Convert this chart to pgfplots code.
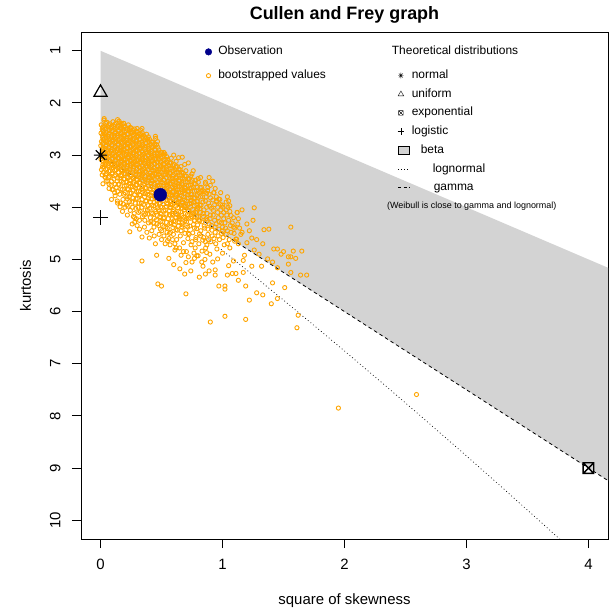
\documentclass[border=0pt]{standalone}
\usepackage{fontspec}
\setmainfont{Liberation Sans}
\usepackage{pgfplots}
\pgfplotsset{compat=1.18}
\definecolor{rgray}{HTML}{D3D3D3}
\definecolor{rorange}{HTML}{FFA500}
\definecolor{rnavy}{HTML}{00008B}

% R pch 8 (plus and cross) and pch 7 (square with cross)
\pgfdeclareplotmark{rast}{%
  \pgfpathmoveto{\pgfqpoint{-\pgfplotmarksize}{0pt}}\pgfpathlineto{\pgfqpoint{\pgfplotmarksize}{0pt}}%
  \pgfpathmoveto{\pgfqpoint{0pt}{-\pgfplotmarksize}}\pgfpathlineto{\pgfqpoint{0pt}{\pgfplotmarksize}}%
  \pgfpathmoveto{\pgfqpoint{-.7071\pgfplotmarksize}{-.7071\pgfplotmarksize}}\pgfpathlineto{\pgfqpoint{.7071\pgfplotmarksize}{.7071\pgfplotmarksize}}%
  \pgfpathmoveto{\pgfqpoint{-.7071\pgfplotmarksize}{.7071\pgfplotmarksize}}\pgfpathlineto{\pgfqpoint{.7071\pgfplotmarksize}{-.7071\pgfplotmarksize}}%
  \pgfusepathqstroke}
\pgfdeclareplotmark{sqx}{%
  \pgfpathrectangle{\pgfqpoint{-\pgfplotmarksize}{-\pgfplotmarksize}}{\pgfqpoint{2\pgfplotmarksize}{2\pgfplotmarksize}}%
  \pgfpathmoveto{\pgfqpoint{-\pgfplotmarksize}{-\pgfplotmarksize}}\pgfpathlineto{\pgfqpoint{\pgfplotmarksize}{\pgfplotmarksize}}%
  \pgfpathmoveto{\pgfqpoint{-\pgfplotmarksize}{\pgfplotmarksize}}\pgfpathlineto{\pgfqpoint{\pgfplotmarksize}{-\pgfplotmarksize}}%
  \pgfusepathqstroke}

\pgfplotsset{boot/.style={forget plot, only marks, mark=o, mark size=2.1bp, line width=0.9bp, rorange}}

\begin{document}
\begin{tikzpicture}
\begin{axis}[
  name=main,
  scale only axis, width=527bp, height=507bp,
  xmin=-0.16, xmax=4.16, ymin=0.64, ymax=10.36, y dir=reverse,
  xtick={0,1,2,3,4}, ytick={1,2,...,10},
  tick pos=left, tick align=outside, major tick length=9bp,
  every tick/.style={black, line width=0.9bp},
  axis line style={line width=0.9bp},
  /pgf/number format/assume math mode=true,
  tick label style={font=\fontsize{15}{18}\selectfont},
  xticklabel style={yshift=-8bp},
  yticklabel style={xshift=-8bp, rotate=90, anchor=south},
  xlabel={square of skewness}, ylabel={kurtosis},
  every axis x label/.style={at={(axis description cs:0.5,-0.1282)}, anchor=base, font=\fontsize{15}{18}\selectfont},
  every axis y label/.style={at={(axis description cs:-0.0949,0.5)}, anchor=base, rotate=90, font=\fontsize{15}{18}\selectfont},
  title={Cullen and Frey graph},
  every axis title/.style={at={(axis description cs:0.5,1.0237)}, anchor=base, font=\bfseries\fontsize{18}{21}\selectfont},
  legend cell align=left,
  legend style={draw=none, fill=none, at={(axis description cs:0.2353,0.972)}, anchor=north west,
    inner sep=0pt, row sep=12.8bp, font=\fontsize{12}{14}\selectfont,
    nodes={text height=8.5bp, text depth=2.5bp, inner ysep=0pt, inner xsep=6.5bp}},
]
\addlegendimage{only marks, mark=*, mark size=3.3bp, rnavy}
\addlegendentry{Observation}
\addlegendimage{only marks, mark=o, mark size=2.1bp, line width=0.85bp, rorange}
\addlegendentry{bootstrapped values}

% beta region
\addplot[forget plot, fill=rgray, draw=none] coordinates {(0,1) (4.5,5.5) (4.5,9.75) (0,3)};
% lognormal
\addplot[forget plot, black, line width=0.7bp, dash pattern=on 0.8bp off 2.6bp] coordinates {
  (0,3) (0.0906,3.1615) (0.1824,3.3261) (0.4651,3.8383) (0.7092,4.2869) (0.961,4.7561)
  (1.2207,5.2463) (1.4884,5.7583) (1.7641,6.2925) (2.048,6.8496) (2.3401,7.4303)
  (2.6406,8.0352) (2.9496,8.6649) (3.267,9.3201) (3.5931,10.0015) (3.9279,10.7098)};
% gamma
\addplot[forget plot, black, line width=0.8bp, dash pattern=on 3.5bp off 3bp] coordinates {(0,3) (4.5,9.75)};

% bootstrapped values
\addplot[boot] coordinates {
(0.006,2.42)(0.014,2.50)(0.004,2.58)(0.018,2.66)(0.008,2.74)(0.002,2.82)(0.016,2.90)(0.010,2.98)(0.004,3.08)(0.020,3.18)(0.008,3.28)
(0.028,2.33)(0.036,2.44)(0.024,2.53)(0.040,2.61)(0.030,2.70)(0.022,2.78)(0.038,2.87)(0.032,2.95)(0.026,3.04)(0.042,3.13)(0.030,3.22)(0.024,3.33)(0.036,3.42)
(0.052,2.37)(0.060,2.46)(0.048,2.56)(0.064,2.64)(0.054,2.73)(0.046,2.81)(0.062,2.90)(0.056,2.99)(0.050,3.07)(0.066,3.16)(0.054,3.26)(0.048,3.36)(0.060,3.50)
(0.078,2.40)(0.086,2.49)(0.074,2.58)(0.090,2.67)(0.080,2.76)(0.072,2.85)(0.088,2.93)(0.082,3.02)(0.076,3.11)(0.092,3.20)(0.080,3.30)(0.074,3.41)(0.086,3.58)
(0.102,2.36)(0.110,2.45)(0.098,2.53)(0.114,2.62)(0.104,2.71)(0.096,2.80)(0.112,2.88)(0.106,2.97)(0.100,3.06)(0.116,3.15)(0.104,3.24)(0.098,3.34)(0.110,3.46)(0.104,3.66)
(0.128,2.39)(0.136,2.48)(0.124,2.57)(0.140,2.66)(0.130,2.75)(0.122,2.84)(0.138,2.92)(0.132,3.01)(0.126,3.10)(0.142,3.19)(0.130,3.28)(0.124,3.38)(0.136,3.50)(0.128,3.62)
(0.152,2.35)(0.160,2.43)(0.148,2.52)(0.164,2.61)(0.154,2.70)(0.146,2.79)(0.162,2.88)(0.156,2.96)(0.150,3.05)(0.166,3.14)(0.154,3.23)(0.148,3.33)(0.160,3.44)(0.152,3.56)(0.158,3.75)
(0.178,2.41)(0.186,2.50)(0.174,2.59)(0.190,2.68)(0.180,2.77)(0.172,2.86)(0.188,2.94)(0.182,3.03)(0.176,3.12)(0.192,3.21)(0.180,3.30)(0.174,3.40)(0.186,3.52)(0.178,3.66)(0.184,3.85)
(0.202,2.45)(0.210,2.54)(0.198,2.63)(0.214,2.72)(0.204,2.81)(0.196,2.90)(0.212,2.99)(0.206,3.08)(0.200,3.17)(0.216,3.26)(0.204,3.36)(0.198,3.46)(0.210,3.58)(0.202,3.72)
(0.228,2.42)(0.236,2.51)(0.224,2.60)(0.240,2.69)(0.230,2.78)(0.222,2.87)(0.238,2.96)(0.232,3.05)(0.226,3.14)(0.242,3.23)(0.230,3.33)(0.224,3.43)(0.236,3.54)(0.228,3.66)(0.234,3.80)(0.226,3.98)
(0.252,2.48)(0.260,2.57)(0.248,2.66)(0.264,2.75)(0.254,2.84)(0.246,2.93)(0.262,3.02)(0.256,3.11)(0.250,3.20)(0.266,3.29)(0.254,3.39)(0.248,3.49)(0.260,3.60)(0.252,3.73)(0.258,3.90)
(0.278,2.50)(0.286,2.59)(0.274,2.68)(0.290,2.77)(0.280,2.86)(0.272,2.95)(0.288,3.04)(0.282,3.13)(0.276,3.22)(0.292,3.32)(0.280,3.42)(0.274,3.52)(0.286,3.63)(0.278,3.76)(0.284,3.92)(0.276,4.12)
(0.302,2.55)(0.310,2.64)(0.298,2.73)(0.314,2.82)(0.304,2.91)(0.296,3.00)(0.312,3.09)(0.306,3.18)(0.300,3.27)(0.316,3.37)(0.304,3.47)(0.298,3.57)(0.310,3.69)(0.302,3.83)(0.308,4.00)
(0.328,2.52)(0.336,2.61)(0.324,2.70)(0.340,2.79)(0.330,2.88)(0.322,2.97)(0.338,3.06)(0.332,3.15)(0.326,3.24)(0.342,3.34)(0.330,3.44)(0.324,3.54)(0.336,3.65)(0.328,3.77)(0.334,3.92)(0.326,4.08)
(0.352,2.62)(0.360,2.71)(0.348,2.80)(0.364,2.89)(0.354,2.98)(0.346,3.07)(0.362,3.16)(0.356,3.26)(0.350,3.36)(0.366,3.46)(0.354,3.56)(0.348,3.67)(0.360,3.80)(0.352,3.95)(0.358,4.15)
(0.378,2.60)(0.386,2.69)(0.374,2.78)(0.390,2.87)(0.380,2.96)(0.372,3.05)(0.388,3.14)(0.382,3.23)(0.376,3.33)(0.392,3.43)(0.380,3.53)(0.374,3.64)(0.386,3.75)(0.378,3.88)(0.384,4.05)
(0.402,2.70)(0.410,2.79)(0.398,2.88)(0.414,2.97)(0.404,3.06)(0.396,3.15)(0.412,3.24)(0.406,3.34)(0.400,3.44)(0.416,3.54)(0.404,3.65)(0.398,3.77)(0.410,3.90)(0.402,4.02)(0.408,4.20)
(0.428,2.75)(0.436,2.84)(0.424,2.93)(0.440,3.02)(0.430,3.11)(0.422,3.20)(0.438,3.30)(0.432,3.40)(0.426,3.50)(0.442,3.61)(0.430,3.72)(0.424,3.84)(0.436,3.97)(0.428,4.12)(0.434,4.30)
(0.452,2.68)(0.460,2.80)(0.448,2.90)(0.464,2.99)(0.454,3.08)(0.446,3.17)(0.462,3.27)(0.456,3.37)(0.450,3.47)(0.466,3.58)(0.454,3.69)(0.448,3.81)(0.460,3.94)(0.452,4.08)(0.458,4.24)
(0.478,2.90)(0.486,2.99)(0.474,3.08)(0.490,3.17)(0.480,3.27)(0.472,3.37)(0.488,3.47)(0.482,3.57)(0.476,3.68)(0.492,3.80)(0.480,3.92)(0.474,4.05)(0.486,4.18)(0.478,4.35)
(0.502,2.95)(0.510,3.04)(0.498,3.13)(0.514,3.23)(0.504,3.33)(0.496,3.43)(0.512,3.53)(0.506,3.64)(0.500,3.75)(0.516,3.87)(0.504,4.00)(0.498,4.13)(0.510,4.28)(0.502,4.45)
(0.528,2.98)(0.536,3.08)(0.524,3.18)(0.540,3.28)(0.530,3.38)(0.522,3.48)(0.538,3.58)(0.532,3.69)(0.526,3.80)(0.542,3.92)(0.530,4.05)(0.524,4.20)(0.536,4.38)
(0.552,3.10)(0.560,3.20)(0.548,3.30)(0.564,3.40)(0.554,3.50)(0.546,3.60)(0.562,3.71)(0.556,3.82)(0.550,3.94)(0.566,4.07)(0.554,4.22)(0.548,4.40)(0.560,4.60)
(0.578,3.15)(0.586,3.25)(0.574,3.35)(0.590,3.45)(0.580,3.55)(0.572,3.66)(0.588,3.77)(0.582,3.89)(0.576,4.01)(0.592,4.15)(0.580,4.30)(0.574,4.48)
(0.602,3.18)(0.610,3.28)(0.598,3.38)(0.614,3.48)(0.604,3.58)(0.596,3.69)(0.612,3.80)(0.606,3.92)(0.600,4.05)(0.616,4.19)(0.604,4.34)(0.598,4.52)(0.610,4.70)
(0.628,3.22)(0.636,3.33)(0.624,3.44)(0.640,3.55)(0.630,3.66)(0.622,3.77)(0.638,3.89)(0.632,4.01)(0.626,4.14)(0.642,4.28)(0.630,4.44)(0.624,4.62)
(0.652,3.28)(0.660,3.39)(0.648,3.50)(0.664,3.61)(0.654,3.72)(0.646,3.84)(0.662,3.96)(0.656,4.09)(0.650,4.23)(0.666,4.38)(0.654,4.55)(0.648,4.78)
(0.678,3.35)(0.686,3.46)(0.674,3.57)(0.690,3.68)(0.680,3.80)(0.672,3.92)(0.688,4.05)(0.682,4.19)(0.676,4.34)(0.692,4.50)(0.680,4.68)
(0.702,3.40)(0.710,3.52)(0.698,3.64)(0.714,3.76)(0.704,3.88)(0.696,4.01)(0.712,4.14)(0.706,4.28)(0.700,4.43)(0.716,4.60)(0.704,4.85)
(0.728,3.45)(0.736,3.57)(0.724,3.69)(0.740,3.81)(0.730,3.94)(0.722,4.07)(0.738,4.21)(0.732,4.36)(0.726,4.52)(0.742,4.72)
(0.752,3.48)(0.760,3.62)(0.748,3.76)(0.764,3.90)(0.754,4.04)(0.746,4.18)(0.762,4.33)(0.756,4.49)(0.750,4.66)(0.766,4.88)
(0.778,3.55)(0.786,3.68)(0.774,3.82)(0.790,3.96)(0.780,4.10)(0.772,4.25)(0.788,4.41)(0.782,4.58)(0.776,4.78)
(0.802,3.52)(0.810,3.72)(0.798,3.88)(0.814,4.03)(0.804,4.18)(0.796,4.34)(0.812,4.51)(0.806,4.70)(0.800,4.93)
(0.828,3.62)(0.836,3.80)(0.824,3.96)(0.840,4.12)(0.830,4.28)(0.822,4.45)(0.838,4.63)(0.832,4.84)
(0.852,3.70)(0.860,3.88)(0.848,4.05)(0.864,4.22)(0.854,4.40)(0.846,4.58)(0.862,4.78)(0.856,5.00)
(0.878,3.68)(0.886,3.92)(0.874,4.12)(0.890,4.32)(0.880,4.52)(0.872,4.72)
(0.902,3.82)(0.910,4.02)(0.898,4.22)(0.914,4.44)(0.904,4.66)(0.896,4.90)
(0.928,3.72)(0.936,3.95)(0.924,4.15)(0.940,4.38)(0.930,4.60)
(0.952,3.88)(0.960,4.10)(0.948,4.32)(0.964,4.55)(0.954,4.80)
(0.978,3.85)(0.986,4.05)(0.974,4.28)(0.990,4.50)
(1.002,4.00)(1.010,4.22)(0.998,4.46)(1.014,4.72)
(1.03,3.90)(1.035,4.15)(1.025,4.40)(1.06,4.08)(1.065,4.35)(1.055,4.62)(1.09,4.20)(1.095,4.50)(1.12,4.10)(1.125,4.32)(1.115,4.61)
(0.03,2.30)(0.14,2.32)(0.19,2.39)(0.30,2.49)(0.34,2.49)(0.45,2.64)(0.52,2.95)(0.60,3.00)(0.67,3.04)(0.72,3.15)(0.76,3.30)(0.82,3.43)
(0.04,3.43)(0.07,3.64)(0.22,3.84)(0.20,4.00)(0.28,4.20)(0.37,4.13)(0.12,3.78)(0.02,3.55)(0.09,3.85)(0.16,3.99)
(0.24,4.47)(0.28,4.29)(0.34,4.57)(0.40,4.59)(0.45,4.70)(0.34,5.03)(0.47,5.47)(0.50,5.51)(0.55,4.64)(0.61,4.82)
(0.65,5.18)(0.70,5.06)(0.69,5.28)(0.70,5.66)(0.81,5.34)(0.79,4.93)
(0.89,3.43)(0.86,3.55)(0.93,3.72)(0.87,3.73)(0.97,3.84)(1.05,3.88)(1.26,4.01)(1.12,4.10)(1.13,4.22)(1.20,4.32)
(1.34,4.43)(1.38,4.42)(1.56,4.38)(1.16,4.48)(1.24,4.59)(1.11,4.61)(1.20,4.68)(1.42,4.80)(1.45,4.80)(1.50,4.85)
(1.58,4.84)(1.65,4.84)(1.26,4.82)(1.30,4.90)(1.37,4.99)(1.48,4.90)(1.56,4.95)(1.60,4.98)
(0.87,4.87)(0.96,4.99)(0.89,5.22)(0.84,5.13)(0.94,5.20)(0.94,5.30)(1.04,5.30)(1.08,5.27)(1.11,5.27)(1.17,5.25)
(1.13,5.40)(1.19,5.51)(1.24,5.13)(1.32,5.13)(1.09,5.03)(1.17,5.02)(0.97,5.51)(1.02,5.51)(1.02,5.57)(1.28,5.64)
(1.33,5.68)(1.22,5.78)(1.40,5.85)(1.45,5.75)(1.51,5.54)(1.41,5.45)(1.62,6.07)(1.61,6.31)(1.02,6.09)(0.90,6.20)
(1.19,6.15)(1.54,5.09)(1.56,5.25)(1.64,5.30)(1.69,5.30)(1.45,5.16)(1.54,4.95)(1.41,5.05)
(0.84,3.68)(0.88,3.62)(0.95,3.90)(1.00,3.96)(1.03,4.05)(1.07,4.16)(0.99,4.30)(1.04,4.45)(1.09,4.38)(1.15,4.52)
(1.13,4.70)(1.06,4.78)(1.00,4.88)(0.92,5.05)(1.05,5.12)(1.18,4.92)(1.22,4.45)(1.28,4.62)(1.33,4.70)(1.25,4.25)(1.16,4.05)
(1.95,7.85)(2.59,7.59)
};
% bootstrapped values, dense core
\addplot[boot] coordinates {
(0.019,2.46)(0.022,2.54)(0.017,2.62)(0.021,2.70)(0.016,2.78)(0.020,2.86)(0.023,2.94)(0.018,3.03)(0.021,3.13)(0.016,3.23)(0.014,3.38)
(0.043,2.39)(0.046,2.49)(0.041,2.57)(0.045,2.66)(0.040,2.74)(0.044,2.83)(0.047,2.91)(0.042,3.00)(0.045,3.09)(0.040,3.18)(0.044,3.28)(0.041,3.38)(0.046,3.50)
(0.067,2.42)(0.070,2.51)(0.065,2.60)(0.069,2.69)(0.064,2.77)(0.068,2.86)(0.071,2.95)(0.066,3.03)(0.069,3.12)(0.064,3.21)(0.068,3.31)(0.065,3.43)(0.070,3.56)
(0.092,2.45)(0.095,2.54)(0.090,2.63)(0.094,2.72)(0.089,2.81)(0.093,2.89)(0.096,2.98)(0.091,3.07)(0.094,3.16)(0.089,3.25)(0.093,3.36)(0.090,3.50)(0.095,3.66)
(0.117,2.41)(0.120,2.49)(0.115,2.58)(0.119,2.67)(0.114,2.76)(0.118,2.84)(0.121,2.93)(0.116,3.02)(0.119,3.11)(0.114,3.20)(0.118,3.29)(0.115,3.40)(0.120,3.56)(0.116,3.72)
(0.142,2.44)(0.145,2.53)(0.140,2.62)(0.144,2.71)(0.139,2.80)(0.143,2.88)(0.146,2.97)(0.141,3.06)(0.144,3.15)(0.139,3.24)(0.143,3.33)(0.140,3.44)(0.145,3.56)(0.141,3.70)(0.138,3.88)
(0.167,2.39)(0.170,2.48)(0.165,2.57)(0.169,2.66)(0.164,2.75)(0.168,2.84)(0.171,2.92)(0.166,3.01)(0.169,3.10)(0.164,3.19)(0.168,3.28)(0.165,3.39)(0.170,3.50)(0.166,3.65)(0.163,3.92)
(0.192,2.46)(0.195,2.55)(0.190,2.64)(0.194,2.73)(0.189,2.82)(0.193,2.90)(0.196,2.99)(0.191,3.08)(0.194,3.17)(0.189,3.26)(0.193,3.35)(0.190,3.46)(0.195,3.59)(0.191,3.75)(0.188,3.94)
(0.217,2.50)(0.220,2.59)(0.215,2.68)(0.219,2.77)(0.214,2.86)(0.218,2.95)(0.221,3.04)(0.216,3.13)(0.219,3.22)(0.214,3.31)(0.218,3.41)(0.215,3.52)(0.220,3.65)(0.216,3.80)(0.213,3.96)
(0.242,2.47)(0.245,2.56)(0.240,2.65)(0.244,2.74)(0.239,2.83)(0.243,2.92)(0.246,3.01)(0.241,3.10)(0.244,3.19)(0.239,3.28)(0.243,3.38)(0.240,3.49)(0.245,3.60)(0.241,3.73)(0.238,3.89)(0.244,4.06)
(0.267,2.53)(0.270,2.62)(0.265,2.71)(0.269,2.80)(0.264,2.89)(0.268,2.98)(0.271,3.07)(0.266,3.16)(0.269,3.25)(0.264,3.34)(0.268,3.44)(0.265,3.55)(0.270,3.67)(0.266,3.82)(0.263,4.00)(0.269,4.18)
(0.292,2.55)(0.295,2.64)(0.290,2.73)(0.294,2.82)(0.289,2.91)(0.293,3.00)(0.296,3.09)(0.291,3.18)(0.294,3.27)(0.289,3.37)(0.293,3.47)(0.290,3.58)(0.295,3.70)(0.291,3.84)(0.288,4.02)(0.294,4.22)
(0.317,2.60)(0.320,2.69)(0.315,2.78)(0.319,2.87)(0.314,2.96)(0.318,3.05)(0.321,3.14)(0.316,3.23)(0.319,3.32)(0.314,3.42)(0.318,3.52)(0.315,3.63)(0.320,3.76)(0.316,3.92)(0.313,4.10)(0.319,4.25)
(0.342,2.57)(0.345,2.66)(0.340,2.75)(0.344,2.84)(0.339,2.93)(0.343,3.02)(0.346,3.11)(0.341,3.20)(0.344,3.29)(0.339,3.39)(0.343,3.49)(0.340,3.60)(0.345,3.71)(0.341,3.85)(0.338,4.00)(0.344,4.18)
(0.367,2.67)(0.370,2.76)(0.365,2.85)(0.369,2.94)(0.364,3.03)(0.368,3.12)(0.371,3.21)(0.366,3.31)(0.369,3.41)(0.364,3.51)(0.368,3.62)(0.365,3.74)(0.370,3.88)(0.366,4.05)(0.363,4.25)
(0.392,2.65)(0.395,2.74)(0.390,2.83)(0.394,2.92)(0.389,3.01)(0.393,3.10)(0.396,3.19)(0.391,3.28)(0.394,3.38)(0.389,3.48)(0.393,3.59)(0.390,3.70)(0.395,3.82)(0.391,3.97)(0.388,4.13)(0.394,4.30)
(0.417,2.75)(0.420,2.84)(0.415,2.93)(0.419,3.02)(0.414,3.11)(0.418,3.20)(0.421,3.29)(0.416,3.39)(0.419,3.49)(0.414,3.60)(0.418,3.71)(0.415,3.84)(0.420,3.96)(0.416,4.11)(0.413,4.28)
(0.442,2.80)(0.445,2.89)(0.440,2.98)(0.444,3.07)(0.439,3.16)(0.443,3.25)(0.446,3.35)(0.441,3.45)(0.444,3.56)(0.439,3.67)(0.443,3.78)(0.440,3.91)(0.445,4.05)(0.441,4.21)(0.438,4.38)
(0.467,2.74)(0.470,2.85)(0.465,2.95)(0.469,3.04)(0.464,3.13)(0.468,3.22)(0.471,3.32)(0.466,3.42)(0.469,3.53)(0.464,3.64)(0.468,3.75)(0.465,3.88)(0.470,4.01)(0.466,4.16)(0.463,4.32)
(0.492,2.95)(0.495,3.04)(0.490,3.13)(0.494,3.22)(0.489,3.32)(0.493,3.42)(0.496,3.52)(0.491,3.63)(0.494,3.74)(0.489,3.86)(0.493,3.99)(0.490,4.12)(0.495,4.27)(0.491,4.42)
(0.517,3.00)(0.520,3.09)(0.515,3.18)(0.519,3.28)(0.514,3.38)(0.518,3.48)(0.521,3.59)(0.516,3.70)(0.519,3.81)(0.514,3.94)(0.518,4.07)(0.515,4.21)(0.520,4.37)
(0.542,3.03)(0.545,3.13)(0.540,3.23)(0.544,3.33)(0.539,3.43)(0.543,3.53)(0.546,3.64)(0.541,3.75)(0.544,3.86)(0.539,3.99)(0.543,4.13)(0.540,4.29)(0.545,4.48)
(0.567,3.15)(0.570,3.25)(0.565,3.35)(0.569,3.45)(0.564,3.55)(0.568,3.66)(0.571,3.77)(0.566,3.88)(0.569,4.00)(0.564,4.14)(0.568,4.31)(0.565,4.50)
(0.592,3.20)(0.595,3.30)(0.590,3.40)(0.594,3.50)(0.589,3.61)(0.593,3.72)(0.596,3.83)(0.591,3.95)(0.594,4.08)(0.589,4.22)(0.593,4.39)
(0.617,3.23)(0.620,3.33)(0.615,3.43)(0.619,3.53)(0.614,3.64)(0.618,3.75)(0.621,3.86)(0.616,3.98)(0.619,4.12)(0.614,4.27)(0.618,4.43)
(0.642,3.27)(0.645,3.38)(0.640,3.49)(0.644,3.60)(0.639,3.71)(0.643,3.83)(0.646,3.95)(0.641,4.08)(0.644,4.21)(0.639,4.36)
(0.667,3.33)(0.670,3.44)(0.665,3.55)(0.669,3.66)(0.664,3.78)(0.668,3.90)(0.671,4.02)(0.666,4.16)(0.669,4.30)
(0.692,3.40)(0.695,3.51)(0.690,3.62)(0.694,3.74)(0.689,3.86)(0.693,3.98)(0.696,4.12)(0.691,4.26)
(0.717,3.46)(0.720,3.58)(0.715,3.70)(0.719,3.82)(0.714,3.94)(0.718,4.07)(0.721,4.21)
(0.742,3.51)(0.745,3.63)(0.740,3.75)(0.744,3.87)(0.739,4.00)(0.743,4.14)
(0.767,3.55)(0.770,3.69)(0.765,3.83)(0.769,3.97)(0.764,4.11)(0.768,4.26)
(0.792,3.62)(0.795,3.75)(0.790,3.89)(0.794,4.03)(0.789,4.17)
(0.817,3.62)(0.820,3.80)(0.815,3.96)(0.819,4.10)(0.814,4.26)
};
% bootstrapped values, band towards x = 1 and lower edge
\addplot[boot] coordinates {
(0.56,3.75)(0.575,3.95)(0.585,4.12)(0.60,4.26)(0.615,3.61)(0.63,3.92)(0.645,4.18)(0.66,4.45)(0.67,3.70)(0.685,3.98)
(0.70,4.22)(0.715,4.38)(0.72,4.50)(0.735,3.64)(0.745,3.92)(0.755,4.12)(0.77,4.40)(0.78,4.62)(0.79,3.78)(0.80,4.00)
(0.81,4.25)(0.82,4.55)(0.83,3.70)(0.84,3.90)(0.845,4.18)(0.85,4.36)(0.86,4.66)(0.865,3.80)(0.87,4.00)(0.875,4.25)
(0.88,4.42)(0.885,4.62)(0.89,3.75)(0.895,3.98)(0.90,4.15)(0.91,4.35)(0.915,4.55)(0.92,3.86)(0.925,4.06)(0.935,4.25)
(0.94,4.48)(0.945,4.70)(0.95,3.80)(0.96,4.00)(0.965,4.20)(0.97,4.42)(0.975,4.62)(0.985,3.95)(0.99,4.15)(1.00,4.38)
(1.005,4.58)(1.01,4.10)(1.02,4.30)(1.03,4.52)(1.04,4.70)(1.045,4.00)(1.05,4.25)(1.07,4.48)(1.08,4.30)(1.10,4.40)
(1.10,4.65)(1.14,4.40)(1.06,3.97)(0.78,3.48)(0.74,3.40)(0.70,3.30)(0.66,3.22)(0.62,3.12)(0.58,3.06)(0.64,3.05)
(0.69,3.18)(0.75,3.36)(0.80,3.45)(0.86,3.52)(0.90,3.58)(0.94,3.64)(0.985,3.72)(1.04,3.80)(0.92,3.50)
(0.30,4.35)(0.32,4.42)(0.36,4.38)(0.38,4.48)(0.42,4.45)(0.44,4.55)(0.48,4.52)(0.50,4.62)(0.52,4.55)(0.53,4.70)
(0.57,4.72)(0.59,4.62)(0.62,4.78)(0.66,4.92)(0.68,4.85)(0.72,4.95)(0.75,5.05)(0.77,4.98)(0.26,4.32)(0.22,4.15)
(0.18,4.08)(0.14,3.92)(0.46,4.92)(0.56,4.98)(0.60,5.10)(0.74,5.22)(0.83,5.05)(0.86,5.28)
};
% observation
\addplot[forget plot, only marks, mark=*, mark size=6.5bp, rnavy] coordinates {(0.49,3.76)};
% theoretical distributions
\addplot[forget plot, only marks, mark=rast, mark size=6.7bp, line width=1.2bp, black] coordinates {(0,3)};
\addplot[forget plot, only marks, mark=triangle, mark size=7.6bp, line width=1.2bp, black] coordinates {(0,1.8)};
\addplot[forget plot, only marks, mark=+, mark size=7.5bp, line width=1.2bp, black] coordinates {(0,4.2)};
\addplot[forget plot, only marks, mark=sqx, mark size=5.3bp, line width=1.4bp, black] coordinates {(4,9)};

\node[anchor=west, inner sep=0pt, font=\fontsize{12}{14}\selectfont] at (axis description cs:0.5896,0.9631) {Theoretical distributions};
\node[anchor=west, inner sep=0pt, font=\fontsize{9}{11}\selectfont] at (axis description cs:0.5806,0.6568) {(Weibull is close to gamma and lognormal)};
\end{axis}

\begin{axis}[
  scale only axis, width=527bp, height=507bp, hide axis,
  xmin=-0.16, xmax=4.16, ymin=0.64, ymax=10.36,
  legend cell align=left,
  legend style={draw=none, fill=none, at={(axis description cs:0.6006,0.9254)}, anchor=north west,
    inner sep=0pt, row sep=7.7bp, font=\fontsize{12}{14}\selectfont,
    nodes={text height=8.5bp, text depth=2.5bp, inner ysep=0pt}},
]
\addlegendimage{only marks, mark=rast, mark size=2.8bp, black}
\addlegendentry{normal}
\addlegendimage{only marks, mark=triangle, mark size=3.2bp, black}
\addlegendentry{uniform}
\addlegendimage{only marks, mark=sqx, mark size=2.3bp, black}
\addlegendentry{exponential}
\addlegendimage{only marks, mark=+, mark size=3.2bp, black}
\addlegendentry{logistic}
\addlegendimage{legend image code/.code={\draw[fill=rgray, draw=black, line width=0.6bp] (0.2cm,-0.13cm) rectangle (0.6cm,0.15cm);}}
\addlegendentry{\hspace{9bp}beta}
\addlegendimage{legend image code/.code={\draw[black, line width=0.6bp, dash pattern=on 0.8bp off 2.2bp] (0.2cm,0cm) -- (0.6cm,0cm);}}
\addlegendentry{\hspace{21bp}lognormal}
\addlegendimage{legend image code/.code={\draw[black, line width=0.7bp, dash pattern=on 3bp off 2.5bp] (0.2cm,0cm) -- (0.6cm,0cm);}}
\addlegendentry{\hspace{22bp}gamma}
\end{axis}

\pgfresetboundingbox
\path[use as bounding box] ([xshift=-81bp,yshift=-70bp]main.south west) rectangle ([xshift=5bp,yshift=32bp]main.north east);
\end{tikzpicture}
\end{document}
